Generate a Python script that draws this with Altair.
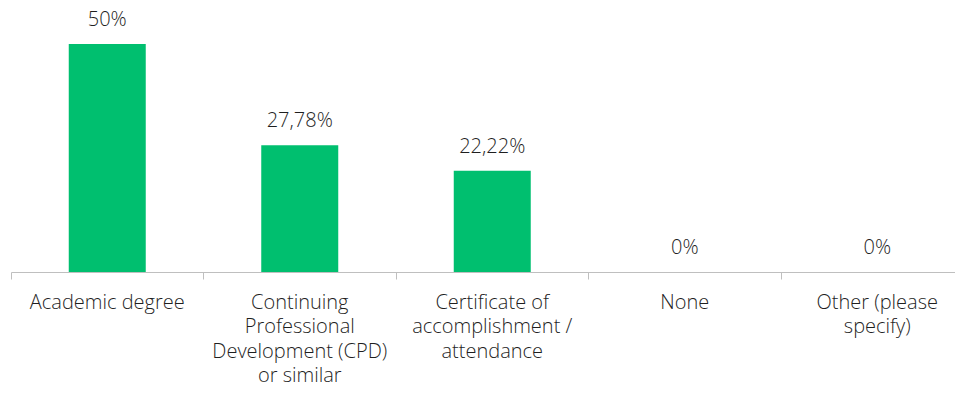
import altair as alt
import pandas as pd

categories = ["Academic degree",
              "Continuing|Professional|Development (CPD)|or similar",
              "Certificate of|accomplishment  /|attendance",
              "None",
              "Other (please|specify)"]
values = [50, 27.78, 22.22, 0, 0]
value_labels = ["50%", "27,78%", "22,22%", "0%", "0%"]

df = pd.DataFrame({"cat": categories, "val": values, "lab": value_labels})

step = 192.5
FONT = "Open Sans"
FS = 20
xscale = alt.Scale(paddingInner=0, paddingOuter=0, range=[0, 5 * step])
x = alt.X("cat:N", sort=categories, scale=xscale, title=None,
          axis=alt.Axis(labelExpr="split(datum.value, '|')", labelAngle=0,
                        bandPosition=0,
                        tickSize=7, tickColor="#BFBFBF", domainColor="#BFBFBF",
                        labelPadding=13, labelFontSize=FS, labelFont=FONT,
                        labelFontWeight=300,
                        labelColor="#1f1f1f", labelLineHeight=24.5,
                        labelBaseline="top", labelAlign="center"))
y = alt.Y("val:Q", scale=alt.Scale(domain=[0, 264 / 4.56]), axis=None)

bars = alt.Chart(df).mark_bar(color="#00BF6F", width=alt.RelativeBandSize(0.4)).encode(x=x, y=y)
text = alt.Chart(df).mark_text(dy=-18, fontSize=FS, font=FONT, fontWeight=300,
                               color="#1f1f1f", baseline="alphabetic").encode(
    x=alt.X("cat:N", sort=categories, scale=xscale, title=None), y=y, text="lab:N")

chart = (bars + text).properties(
    width=944, height=264,
    autosize=alt.AutoSizeParams(type="none"),
    padding={"left": 3, "top": 0, "right": 0, "bottom": 125}
).configure_view(stroke=None)

chart.save("out.html", embed_options={"renderer": "svg", "actions": False})
